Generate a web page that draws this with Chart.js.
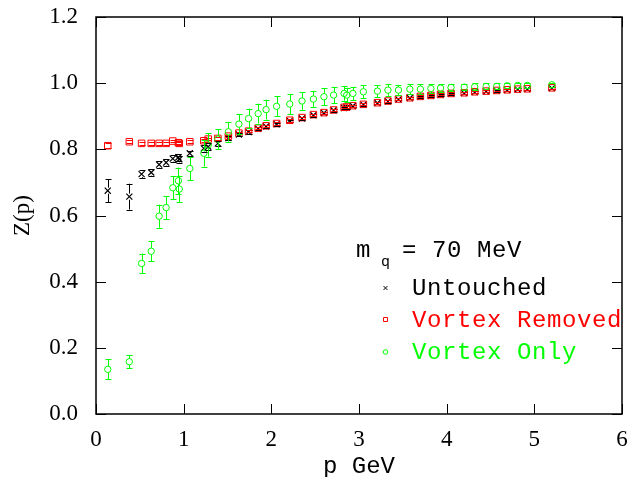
<!DOCTYPE html>
<html>
<head>
<meta charset="utf-8">
<script src="https://cdn.jsdelivr.net/npm/chart.js@4"></script>
<style>
  html, body { margin: 0; padding: 0; background: #fff; }
  #zplot { display: block; }
</style>
</head>
<body>
<canvas id="zplot" width="630" height="477"></canvas>
<script>
// momenta (GeV) shared by the three configurations
const momenta = [
  0.134, 0.38, 0.52, 0.63, 0.72, 0.80, 0.876, 0.94, 0.95, 1.07,
  1.23, 1.28, 1.39, 1.51, 1.63, 1.74, 1.85, 1.94, 2.06, 2.21,
  2.35, 2.48, 2.60, 2.71, 2.83, 2.86, 2.93, 3.05, 3.21, 3.33,
  3.45, 3.58, 3.70, 3.82, 3.93, 4.05, 4.20, 4.32, 4.45, 4.57,
  4.69, 4.81, 4.92, 5.20
];

const untouched = [
  0.675, 0.657, 0.725, 0.730, 0.754, 0.760, 0.772, 0.776, 0.770, 0.788,
  0.803, 0.808, 0.818, 0.834, 0.845, 0.852, 0.862, 0.869, 0.876, 0.886,
  0.893, 0.903, 0.910, 0.918, 0.925, 0.926, 0.931, 0.935, 0.940, 0.945,
  0.951, 0.955, 0.959, 0.962, 0.965, 0.968, 0.970, 0.973, 0.975, 0.977,
  0.979, 0.981, 0.982, 0.985
];
const untouchedErr = [
  0.035, 0.039, 0.012, 0.010, 0.010, 0.010, 0.010, 0.010, 0.010, 0.008,
  0.010, 0.010, 0.008, 0.006, 0.005, 0.005, 0.005, 0.005, 0.004, 0.004,
  0.004, 0.004, 0.004, 0.004, 0.004, 0.004, 0.004, 0.004, 0.004, 0.004,
  0.003, 0.003, 0.003, 0.003, 0.003, 0.003, 0.003, 0.003, 0.003, 0.003,
  0.003, 0.003, 0.003, 0.003
];

const removed = [
  0.811, 0.823, 0.818, 0.818, 0.818, 0.818, 0.825, 0.820, 0.818, 0.823,
  0.826, 0.831, 0.833, 0.840, 0.849, 0.855, 0.864, 0.871, 0.878, 0.888,
  0.896, 0.905, 0.911, 0.919, 0.927, 0.928, 0.932, 0.936, 0.941, 0.946,
  0.952, 0.956, 0.960, 0.963, 0.966, 0.969, 0.971, 0.974, 0.976, 0.978,
  0.980, 0.982, 0.983, 0.986
];
const removedErr = [
  0.007, 0.004, 0.004, 0.004, 0.004, 0.004, 0.004, 0.004, 0.004, 0.004,
  0.004, 0.004, 0.004, 0.004, 0.004, 0.004, 0.004, 0.004, 0.004, 0.004,
  0.003, 0.003, 0.003, 0.003, 0.003, 0.003, 0.003, 0.003, 0.003, 0.003,
  0.003, 0.003, 0.003, 0.003, 0.003, 0.003, 0.003, 0.003, 0.003, 0.003,
  0.003, 0.003, 0.003, 0.003
];

const vortexOnly = [
  0.135, 0.158, 0.455, 0.492, 0.598, 0.624, 0.684, 0.705, 0.680, 0.742,
  0.788, 0.813, 0.831, 0.853, 0.876, 0.893, 0.908, 0.920, 0.930, 0.937,
  0.946, 0.952, 0.959, 0.964, 0.969, 0.964, 0.969, 0.974, 0.976, 0.979,
  0.979, 0.982, 0.982, 0.984, 0.985, 0.987, 0.988, 0.989, 0.990, 0.990,
  0.992, 0.993, 0.993, 0.995
];
const vortexOnlyErr = [
  0.030, 0.020, 0.030, 0.030, 0.035, 0.035, 0.035, 0.040, 0.040, 0.035,
  0.040, 0.035, 0.030, 0.030, 0.030, 0.030, 0.030, 0.030, 0.030, 0.030,
  0.027, 0.025, 0.025, 0.025, 0.022, 0.022, 0.020, 0.020, 0.018, 0.017,
  0.016, 0.015, 0.014, 0.013, 0.012, 0.011, 0.010, 0.010, 0.009, 0.009,
  0.008, 0.008, 0.008, 0.007
];

const xTicks = [0, 1, 2, 3, 4, 5, 6];
const yTicks = [0, 0.2, 0.4, 0.6, 0.8, 1.0, 1.2];

const seriesNames = ['Untouched', 'Vortex Removed', 'Vortex Only'];
const seriesColors = ['#000000', '#ff0000', '#00ff00'];
const seriesStyles = ['crossRot', 'rect', 'circle'];

function toPoints(vals, errs) {
  return momenta.map((p, i) => ({ x: p, y: vals[i], err: errs[i] }));
}

// vertical error bars with small caps, skipping the marker interior
const errorBars = {
  id: 'errorBars',
  afterDatasetsDraw(chart) {
    const ctx = chart.ctx;
    const y = chart.scales.y;
    chart.data.datasets.forEach((ds, di) => {
      const meta = chart.getDatasetMeta(di);
      const gap = ds.barGap;
      ctx.save();
      ctx.strokeStyle = ds.borderColor;
      ctx.lineWidth = 1;
      meta.data.forEach((pt, i) => {
        const raw = ds.data[i];
        const yTop = y.getPixelForValue(raw.y + raw.err);
        const yBot = y.getPixelForValue(raw.y - raw.err);
        const px = Math.round(pt.x) + 0.5;
        ctx.beginPath();
        if (pt.y - gap > yTop) {
          ctx.moveTo(px, yTop);
          ctx.lineTo(px, pt.y - gap);
        }
        if (pt.y + gap < yBot) {
          ctx.moveTo(px, pt.y + gap);
          ctx.lineTo(px, yBot);
        }
        ctx.moveTo(px - 3, Math.round(yTop) + 0.5);
        ctx.lineTo(px + 3, Math.round(yTop) + 0.5);
        ctx.moveTo(px - 3, Math.round(yBot) + 0.5);
        ctx.lineTo(px + 3, Math.round(yBot) + 0.5);
        ctx.stroke();
      });
      ctx.restore();
    });
  }
};

// box frame with inward ticks on every side, plus the tick labels
const frame = {
  id: 'frame',
  afterDraw(chart) {
    const { ctx, chartArea: a, scales: { x, y } } = chart;
    ctx.save();
    ctx.strokeStyle = '#000';
    ctx.lineWidth = 1;
    ctx.beginPath();
    xTicks.forEach(v => {
      const px = Math.round(x.getPixelForValue(v)) + 0.5;
      ctx.moveTo(px, a.bottom); ctx.lineTo(px, a.bottom - 10);
      ctx.moveTo(px, a.top); ctx.lineTo(px, a.top + 10);
    });
    yTicks.forEach(v => {
      const py = Math.round(y.getPixelForValue(v)) + 0.5;
      ctx.moveTo(a.left, py); ctx.lineTo(a.left + 10, py);
      ctx.moveTo(a.right, py); ctx.lineTo(a.right - 10, py);
    });
    ctx.stroke();
    ctx.lineWidth = 1.5;
    ctx.strokeRect(a.left, a.top, a.right - a.left, a.bottom - a.top);

    ctx.fillStyle = '#000';
    ctx.font = '23px "Liberation Serif"';
    ctx.textBaseline = 'middle';
    ctx.textAlign = 'center';
    xTicks.forEach(v => {
      ctx.fillText(String(v), x.getPixelForValue(v), a.bottom + 26);
    });
    ctx.textAlign = 'right';
    yTicks.forEach(v => {
      ctx.fillText(v.toFixed(1), a.left - 18, y.getPixelForValue(v));
    });
    ctx.restore();
  }
};

// legend block with the quark mass line
const legendBlock = {
  id: 'legendBlock',
  afterDraw(chart) {
    const ctx = chart.ctx;
    ctx.save();
    ctx.textAlign = 'left';
    ctx.textBaseline = 'alphabetic';
    ctx.fillStyle = '#000';
    ctx.letterSpacing = '0.6px';
    ctx.font = '24px "Liberation Mono"';
    ctx.fillText('m', 356, 257);
    ctx.fillText('= 70 MeV', 402, 257);
    ctx.font = '15px "Liberation Mono"';
    ctx.fillText('q', 381, 266);

    const rows = [288, 320, 352];
    seriesNames.forEach((name, i) => {
      const cy = rows[i], cx = 385.5;
      ctx.strokeStyle = seriesColors[i];
      ctx.fillStyle = seriesColors[i];
      ctx.lineWidth = 1;
      ctx.beginPath();
      if (seriesStyles[i] === 'crossRot') {
        ctx.moveTo(cx - 2, cy - 2); ctx.lineTo(cx + 2, cy + 2);
        ctx.moveTo(cx + 2, cy - 2); ctx.lineTo(cx - 2, cy + 2);
      } else if (seriesStyles[i] === 'rect') {
        ctx.rect(cx - 2, cy - 2.5, 4, 4);
      } else {
        ctx.arc(cx, cy, 2.3, 0, Math.PI * 2);
      }
      ctx.stroke();
      ctx.font = '24px "Liberation Mono"';
      ctx.fillText(name, 412, cy + 7);
    });
    ctx.restore();
  }
};

const ctx = document.getElementById('zplot').getContext('2d');

new Chart(ctx, {
  type: 'scatter',
  data: {
    datasets: [
      {
        label: seriesNames[0],
        data: toPoints(untouched, untouchedErr),
        pointStyle: 'crossRot', radius: 4.3,
        borderColor: seriesColors[0], backgroundColor: 'transparent',
        borderWidth: 1.2, barGap: 3, order: 3
      },
      {
        label: seriesNames[1],
        data: toPoints(removed, removedErr),
        pointStyle: 'rect', radius: 4.6,
        borderColor: seriesColors[1], backgroundColor: 'transparent',
        borderWidth: 1, barGap: 3.5, order: 2
      },
      {
        label: seriesNames[2],
        data: toPoints(vortexOnly, vortexOnlyErr),
        pointStyle: 'circle', radius: 3.2,
        borderColor: seriesColors[2], backgroundColor: 'transparent',
        borderWidth: 1, barGap: 3.2, order: 1
      }
    ]
  },
  options: {
    responsive: false,
    animation: false,
    layout: { padding: { top: 17, right: 8, left: 0, bottom: 0 } },
    plugins: {
      legend: { display: false },
      tooltip: { enabled: false }
    },
    scales: {
      x: {
        type: 'linear',
        min: 0, max: 6,
        afterFit: s => { s.height = 63; },
        grid: { display: false, drawTicks: false },
        border: { display: false },
        ticks: { display: false },
        title: {
          display: true, text: 'p GeV', color: '#000',
          font: { family: 'Liberation Mono', size: 24, lineHeight: 1 },
          padding: { top: 0, bottom: -2 }
        }
      },
      y: {
        type: 'linear',
        min: 0, max: 1.2,
        afterFit: s => { s.width = 96; },
        grid: { display: false, drawTicks: false },
        border: { display: false },
        ticks: { display: false },
        title: {
          display: true, text: 'Z(p)', color: '#000',
          font: { family: 'Liberation Serif', size: 23 },
          padding: { top: 9, bottom: 0 }
        }
      }
    }
  },
  plugins: [errorBars, frame, legendBlock]
});
</script>
</body>
</html>
